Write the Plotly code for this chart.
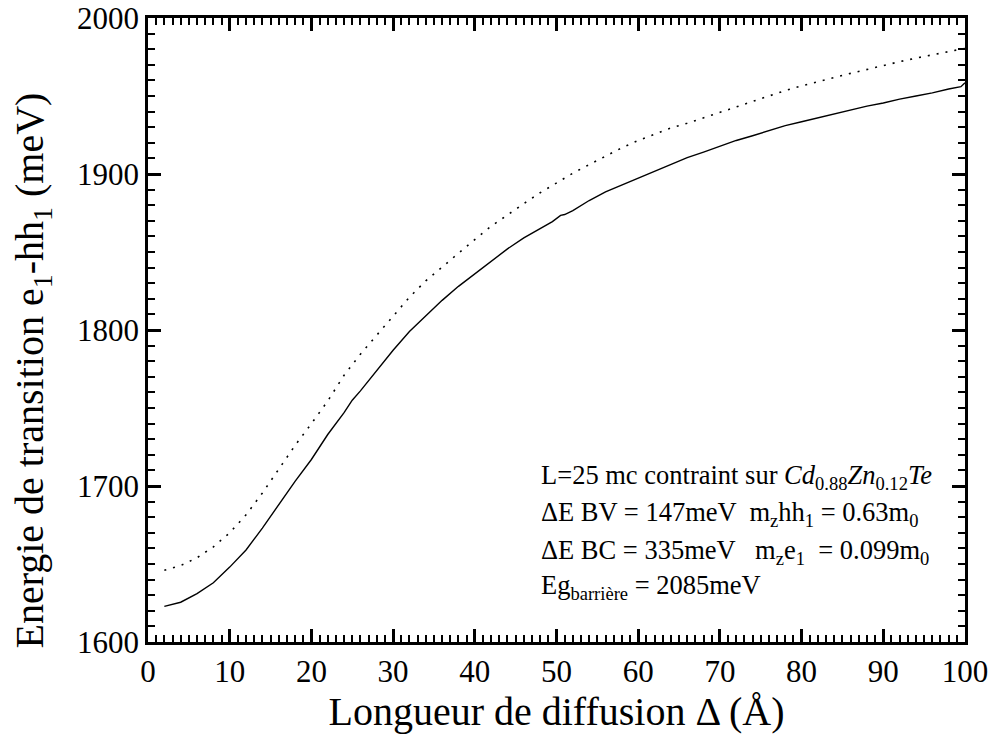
import plotly.graph_objects as go

# Data
x_solid = [2, 4, 6, 8, 10, 12, 14, 16, 18, 20, 22, 24, 25, 26, 28, 30, 32, 34, 36, 38,
           40, 42, 44, 46, 48, 49.5, 50.5, 51, 52, 54, 56, 58, 60, 62, 64, 66, 68, 70,
           72, 74, 76, 78, 80, 82, 84, 86, 88, 90, 92, 94, 96, 98, 99.5, 100]
e_solid = [1622.8, 1625.5, 1631, 1638, 1648, 1659, 1673, 1688, 1703, 1717, 1733, 1747,
           1755, 1761, 1774, 1787, 1799, 1809, 1819, 1828, 1836, 1844, 1852, 1859, 1865,
           1869.5, 1873.5, 1874, 1876.5, 1883, 1888.5, 1893, 1897.5, 1902, 1906.5, 1910.5,
           1914, 1918, 1921.5, 1924.5, 1928, 1931, 1933.5, 1936, 1938.5, 1941, 1943.5,
           1945.5, 1948, 1950, 1952, 1954.5, 1956, 1958.5]

x_dot = [2, 4, 6, 8, 10, 12, 14, 16, 18, 20, 22, 24, 26, 28, 30, 32, 34, 36, 38, 40,
         42, 44, 46, 48, 50, 52, 54, 56, 58, 60, 62, 64, 66, 68, 70, 72, 74, 76, 78, 80,
         82, 84, 86, 88, 90, 92, 94, 96, 98, 100]
e_dot = [1646, 1649, 1654, 1661, 1670, 1681.5, 1695.5, 1711, 1726, 1740, 1754.5, 1771,
         1784.5, 1796.7, 1809, 1821, 1831.5, 1840.5, 1849.5, 1858, 1866.5, 1874, 1881,
         1888, 1894.5, 1900.5, 1906, 1911.5, 1916.8, 1921.5, 1925.5, 1929.5, 1932.5, 1936,
         1940, 1943.5, 1947, 1950.5, 1953.5, 1956.5, 1959, 1961.8, 1964.5, 1967, 1969.8,
         1972, 1974.3, 1976.5, 1978.5, 1980.5]

info_lines = [
    "L=25 mc contraint sur <i>Cd</i><sub>0.88</sub><i>Zn</i><sub>0.12</sub><i>Te</i>",
    "ΔE BV = 147meV  m<sub>z</sub>hh<sub>1</sub> = 0.63m<sub>0</sub>",
    "ΔE BC = 335meV   m<sub>z</sub>e<sub>1</sub>  = 0.099m<sub>0</sub>",
    "Eg<sub>barrière</sub> = 2085meV",
]
info_y = [1705.5, 1682, 1658, 1635.5]

FONT = "Liberation Serif"

fig = go.Figure()

fig.add_scatter(x=x_dot, y=e_dot, mode='lines',
                line=dict(color='black', width=1.6, dash='2px,7px'),
                showlegend=False)
fig.add_scatter(x=x_solid, y=e_solid, mode='lines',
                line=dict(color='black', width=1.4),
                showlegend=False)

for txt, yy in zip(info_lines, info_y):
    fig.add_annotation(x=47.9, y=yy, xref='x', yref='y', text=txt,
                       showarrow=False, xanchor='left', yanchor='middle',
                       font=dict(family=FONT, size=26.5, color='black'))

# y title placed by hand (it sits a little below the axis centre in the original)
fig.add_annotation(x=-0.142, y=0.435, xref='paper', yref='paper',
                   text='Energie de transition e<sub>1</sub>-hh<sub>1</sub> (meV)',
                   textangle=-90, showarrow=False, xanchor='center', yanchor='middle',
                   font=dict(family=FONT, size=40, color='black'))

axis_common = dict(
    showline=True, linecolor='black', linewidth=2.5, mirror='allticks',
    ticks='inside', ticklen=13, tickwidth=2.5, tickcolor='black',
    showgrid=False, zeroline=False, automargin=False, ticklabeloverflow='allow',
    tickfont=dict(family=FONT, size=31, color='black'),
    title_font=dict(family=FONT, size=40, color='black'),
)

fig.update_layout(
    width=992, height=739,
    paper_bgcolor='white', plot_bgcolor='white',
    margin=dict(l=148, r=27, t=18, b=97),
    hovermode=False,
    xaxis=dict(range=[0, 100], dtick=10, tick0=0,
               title=dict(text='Longueur de diffusion Δ (Å)', standoff=6),
               minor=dict(ticks='inside', ticklen=7, tickwidth=2, dtick=1,
                          tickcolor='black', showgrid=False),
               **axis_common),
    yaxis=dict(range=[1600, 2000], dtick=100, tick0=1600,
               minor=dict(ticks='inside', ticklen=7, tickwidth=2, dtick=10,
                          tickcolor='black', showgrid=False),
               **axis_common),
)

# drop the browser's default body margin so the figure fills the window
fig.write_html("out.html", config={'displayModeBar': False},
               post_script="document.body.style.margin='0';")
